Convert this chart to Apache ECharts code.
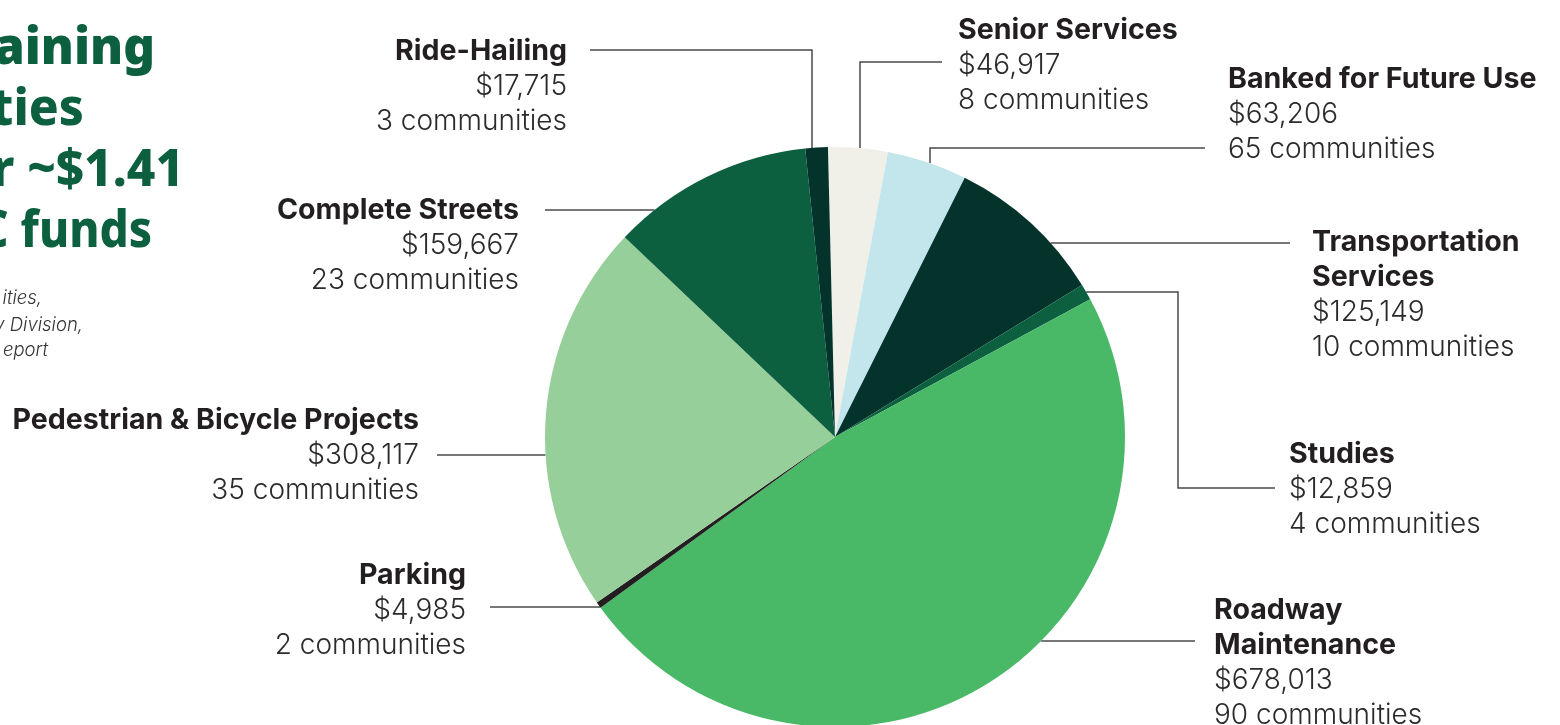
<!DOCTYPE html>
<html><head><meta charset="utf-8">
<script src="https://cdn.jsdelivr.net/npm/echarts@6/dist/echarts.min.js"></script>
<style>html,body{margin:0;padding:0;background:#fff;overflow:hidden}#c{width:1560px;height:725px}</style>
</head><body><div id="c"></div>
<script>
// ---- data ----
const categories = ['Senior Services','Banked for Future Use','Transportation Services','Studies','Roadway Maintenance','Parking','Pedestrian & Bicycle Projects','Complete Streets','Ride-Hailing'];
const labelNames = [['Senior Services'],['Banked for Future Use'],['Transportation','Services'],['Studies'],['Roadway','Maintenance'],['Parking'],['Pedestrian & Bicycle Projects'],['Complete Streets'],['Ride-Hailing']];
const amounts = [46917,63206,125149,12859,678013,4985,308117,159667,17715];
const communities = [8,65,10,4,90,2,35,23,3];
const titleLines = ['aining','ties','r ~$1.41','C funds'];
const sourceLines = ['ities,','y Division,','eport'];

// ---- styles / layout ----
const colors = ['#F0F0E9','#C3E6EC','#04332C','#0C6040','#4AB967','#231F20','#97CF9A','#0C6040','#04332C'];
const CX = 835, CY = 437, R = 290;
const labelPos = [
  {x:958,  y:13,  align:'left',  lineY:62,  startX:942, elbowX:860},
  {x:1228, y:62,  align:'left',  lineY:148, startX:1205, elbowX:930},
  {x:1312, y:225, align:'left',  lineY:243, startX:1290},
  {x:1289, y:437, align:'left',  lineY:488, startX:1275, elbowX:1178, elbowY:292},
  {x:1214, y:593, align:'left',  lineY:641, startX:1195},
  {x:466,  y:558, align:'right', lineY:607, startX:490},
  {x:419,  y:403, align:'right', lineY:455, startX:437},
  {x:519,  y:193, align:'right', lineY:210, startX:545},
  {x:567,  y:34,  align:'right', lineY:50,  startX:590, elbowX:812}
];

function fmtMoney(v){ return '$' + v.toLocaleString('en-US'); }

const chart = echarts.init(document.getElementById('c'));

const graphics = [];
const titleBase = [67,128,189,250];
const titleRight = [155,84,184,152];
const titleScale = [0.97,0.97,0.97,0.9];
const titleWeight = [900,800,800,800];
titleLines.forEach((t,i)=>{
  graphics.push({type:'text', x:titleRight[i], y:titleBase[i]-18, scaleX:titleScale[i],
    style:{text:t, fill:'#0C6040', font:titleWeight[i]+' 51px "Noto Sans"', textAlign:'right', textVerticalAlign:'middle'}});
});
const srcBase = [304,331,356];
const srcRight = [42,83,48];
sourceLines.forEach((t,i)=>{
  graphics.push({type:'text', x:srcRight[i], y:srcBase[i]-6, 
    style:{text:t, fill:'#333', font:'italic 300 18.5px Inter', textAlign:'right', textVerticalAlign:'middle'}});
});

chart.setOption({
  animation:false,
  backgroundColor:'#fff',
  graphic: graphics,
  series:[{
    type:'pie',
    center:[CX, CY],
    radius:R,
    startAngle:91.4,
    clockwise:true,
    avoidLabelOverlap:false,
    emphasis:{disabled:true},
    data: categories.map((c,i)=>({name:c, value:amounts[i], itemStyle:{color:colors[i]}})),
    label:{
      show:true,
      formatter:(p)=>{
        const i = p.dataIndex;
        const names = labelNames[i].map(n=>'{n|'+n+'}').join('\n');
        return names + '\n{v|' + fmtMoney(amounts[i]) + '}\n{v|' + communities[i] + ' communities}';
      },
      rich:{
        n:{fontFamily:'Inter', fontWeight:700, fontSize:28.6, color:'#231F20', lineHeight:35},
        v:{fontFamily:'Inter', fontWeight:300, fontSize:28, color:'#2b2b2b', lineHeight:35}
      }
    },
    labelLine:{show:true, lineStyle:{color:'#4a4a4a', width:1.5}},
    labelLayout:(params)=>{
      const p = labelPos[params.dataIndex];
      let pts;
      if (p.elbowX != null && p.elbowY != null) {
        const ex = CX + Math.sqrt(R*R - (p.elbowY-CY)*(p.elbowY-CY));
        pts = [[ex, p.elbowY],[p.elbowX, p.elbowY],[p.elbowX, p.lineY],[p.startX, p.lineY]];
      } else if (p.elbowX != null) {
        const ey = CY - Math.sqrt(R*R - (p.elbowX-CX)*(p.elbowX-CX));
        pts = [[p.elbowX, ey],[p.elbowX, p.lineY],[p.startX, p.lineY]];
      } else {
        const dx = Math.sqrt(R*R - (p.lineY-CY)*(p.lineY-CY));
        const ex = p.align === 'right' ? CX - dx : CX + dx;
        pts = [[ex, p.lineY],[(ex+p.startX)/2, p.lineY],[p.startX, p.lineY]];
      }
      return {x:p.x, y:p.y, align:p.align, verticalAlign:'top', labelLinePoints:pts};
    }
  }]
});
</script>
</body></html>
